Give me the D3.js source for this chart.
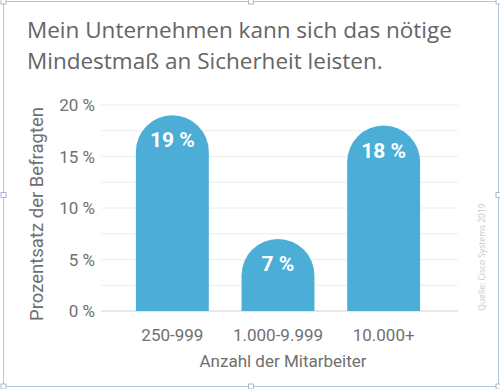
<!DOCTYPE html>
<html>
<head>
<meta charset="utf-8">
<script src="https://cdn.jsdelivr.net/npm/d3@7/dist/d3.min.js"></script>
<style>
  html, body { margin: 0; padding: 0; background: #fff; }
  svg { display: block; font-family: "Open Sans", "Noto Sans", sans-serif; }
</style>
</head>
<body>
<svg id="chart" width="500" height="389"></svg>
<script>
const categories = ["250-999", "1.000-9.999", "10.000+"];
const values = [19, 7, 18];
const valueLabels = ["19 %", "7 %", "18 %"];
const yTicks = [0, 5, 10, 15, 20];
const gridTicks = [0, 2.5, 5, 7.5, 10, 12.5, 15, 17.5, 20];
const titleLines = ["Mein Unternehmen kann sich das nötige", "Mindestmaß an Sicherheit leisten."];
const yTitle = "Prozentsatz der Befragten";
const xTitle = "Anzahl der Mitarbeiter";
const source = "Quelle: Cisco Systems 2019";

const svg = d3.select("#chart");
const plot = { left: 101, right: 458, top: 105, bottom: 311 };
const axisFont = "Roboto, 'Liberation Sans', sans-serif";

// frame like selected image
svg.append("rect").attr("x", 3.5).attr("y", 1.5).attr("width", 495).attr("height", 385)
  .attr("fill", "none").attr("stroke", "#b8c4dc").attr("stroke-width", 1);
const handles = [[3.5,1.5],[251,1.5],[498.5,1.5],[3.5,195],[498.5,195],[3.5,386.5],[251,386.5],[498.5,386.5]];
svg.selectAll(".handle").data(handles).enter().append("rect")
  .attr("x", d => d[0]-2.5).attr("y", d => d[1]-2.5).attr("width", 5).attr("height", 5)
  .attr("fill", "#fff").attr("stroke", "#9aa8c8").attr("stroke-width", 0.8);

// title
svg.append("g").selectAll("text").data(titleLines).enter().append("text")
  .attr("x", 27).attr("y", (d, i) => 38 + i * 31)
  .attr("font-size", 22.5).attr("fill", "#656565").text(d => d);

const x = d3.scaleBand().domain(categories).range([119, 437]).paddingInner(0.31).paddingOuter(0.16);
const y = d3.scaleLinear().domain([0, 20]).range([plot.bottom, plot.top]);

// gridlines
svg.append("g").selectAll("line").data(gridTicks).enter().append("line")
  .attr("x1", plot.left).attr("x2", plot.right)
  .attr("y1", d => y(d)).attr("y2", d => y(d))
  .attr("stroke", d => d === 0 ? "#d0d0d0" : "#ececec").attr("stroke-width", 1);

// y axis
const yAxis = d3.axisLeft(y).tickValues(yTicks).tickSize(0).tickPadding(0).tickFormat(d => d + " %");
const yg = svg.append("g").attr("transform", `translate(95,0)`).call(yAxis);
yg.select(".domain").remove();
yg.selectAll("text").attr("font-size", 17).attr("fill", "#707070")
  .attr("font-family", axisFont).attr("dy", "0.35em");

// x axis
const xAxis = d3.axisBottom(x).tickSize(0).tickPadding(0);
const xg = svg.append("g").attr("transform", `translate(0,${plot.bottom})`).call(xAxis);
xg.select(".domain").remove();
xg.selectAll("text").attr("font-size", 17).attr("fill", "#707070")
  .attr("font-family", axisFont).attr("dy", 0).attr("y", 30);

// bars with rounded tops
const bw = x.bandwidth();
const r = bw / 2;
function barPath(d, i) {
  const x0 = x(categories[i]);
  const yTop = y(d);
  const yb = plot.bottom;
  return `M${x0},${yb} L${x0},${yTop + r} A${r},${r} 0 0 1 ${x0 + bw},${yTop + r} L${x0 + bw},${yb} Z`;
}
svg.append("g").selectAll("path").data(values).enter().append("path")
  .attr("d", (d, i) => barPath(d, i)).attr("fill", "#4caed6");

svg.append("g").selectAll("text").data(values).enter().append("text")
  .attr("x", (d, i) => x(categories[i]) + bw / 2)
  .attr("y", d => y(d) + 32)
  .attr("text-anchor", "middle").attr("font-size", 21).attr("font-weight", "bold")
  .attr("font-family", axisFont)
  .attr("fill", "#fff").text((d, i) => valueLabels[i]);

// axis titles
svg.append("text").attr("x", 283).attr("y", 367).attr("text-anchor", "middle")
  .attr("font-size", 17).attr("font-family", axisFont).attr("fill", "#707070").text(xTitle);
svg.append("text").attr("transform", "translate(43,214) rotate(-90)").attr("text-anchor", "middle")
  .attr("font-size", 18.5).attr("font-family", axisFont).attr("fill", "#707070").text(yTitle);

// source
svg.append("text").attr("transform", "translate(485,257) rotate(-90)").attr("text-anchor", "middle")
  .attr("font-size", 8.5).attr("fill", "#c8c8c8").text(source);
</script>
</body>
</html>
